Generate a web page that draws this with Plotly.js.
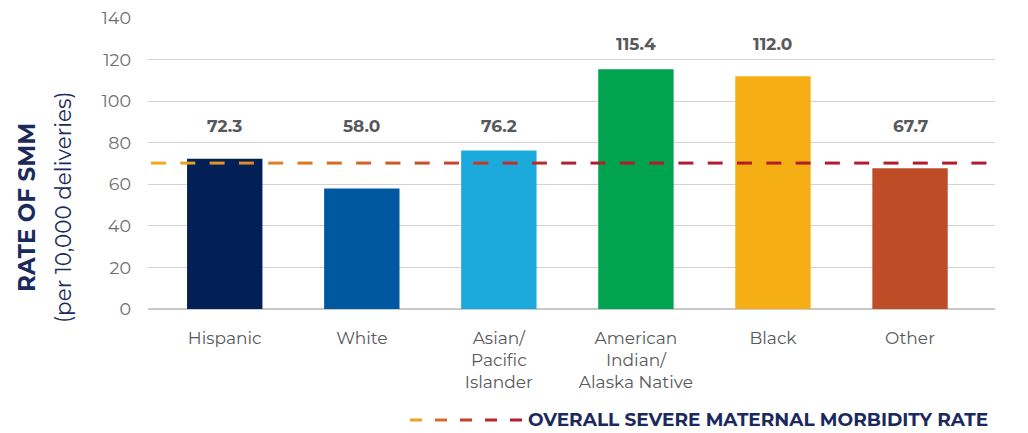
<!DOCTYPE html>
<html>
<head>
<meta charset="utf-8">
<script src="https://cdn.plot.ly/plotly-3.0.1.min.js"></script>
<style>html,body{margin:0;padding:0;background:#fff;}#chart{width:1028px;height:433px;}</style>
</head>
<body>
<div id="chart"></div>
<script>
const categories = ["Hispanic", "White", "Asian/<br>Pacific<br>Islander", "American<br>Indian/<br>Alaska Native", "Black", "Other"];
const rates = [72.3, 58.0, 76.2, 115.4, 112.0, 67.7];
const rateLabels = ["72.3", "58.0", "76.2", "115.4", "112.0", "67.7"];
const barColors = ["#021f56", "#0058a1", "#1ca9db", "#00a34f", "#f5ae14", "#bd4c27"];
const overallRate = 70.2;
const yTicks = [0, 20, 40, 60, 80, 100, 120, 140];
const legendText = "OVERALL SEVERE MATERNAL MORBIDITY RATE";

const W = 1028, H = 433;
const M = {l: 148, r: 33, t: 18, b: 124};
const PW = W - M.l - M.r, PH = H - M.t - M.b;
const FONT = "Montserrat, 'Open Sans', Lato, sans-serif";

function px2paperX(px) { return (px - M.l) / PW; }
function px2paperY(py) { return (H - M.b - py) / PH; }
function mix(c1, c2, t) {
  const r = Math.round(c1[0] + (c2[0] - c1[0]) * t);
  const g = Math.round(c1[1] + (c2[1] - c1[1]) * t);
  const b = Math.round(c1[2] + (c2[2] - c1[2]) * t);
  return "rgb(" + r + "," + g + "," + b + ")";
}
const ORANGE = [240, 168, 30], RED = [178, 28, 44];

const shapes = [];
// dashed overall-rate line with gradient colour
for (let s = 151; s < 992; s += 29.3) {
  const e = Math.min(s + 15, 992);
  const t = Math.min(1, Math.max(0, (s - 150) / 420));
  shapes.push({type: "line", xref: "paper", yref: "y", x0: px2paperX(s), x1: px2paperX(e), y0: overallRate, y1: overallRate,
    line: {color: mix(ORANGE, RED, t), width: 3}, layer: "above"});
}
// legend dashes
const legendY = px2paperY(420);
const legendColors = ["#f0a21e", "#d86a28", "#c63c2a", "#b9262b", "#b11e2e"];
for (let i = 0; i < 5; i++) {
  const s = 410 + i * 25;
  shapes.push({type: "line", xref: "paper", yref: "paper", x0: px2paperX(s), x1: px2paperX(s + 12), y0: legendY, y1: legendY,
    line: {color: legendColors[i], width: 3}});
}

const lowMax = Math.max(...rates.filter(v => v < 100));
const highMax = Math.max(...rates.filter(v => v >= 100));
const annotations = rates.map((v, i) => ({
  x: i, y: v >= 100 ? highMax : lowMax, xref: "x", yref: "y",
  text: "<b>" + rateLabels[i] + "</b>", showarrow: false, yanchor: "middle", yshift: 25,
  font: {family: FONT, size: 17, color: "#58595b"}
}));
annotations.push({
  xref: "paper", yref: "paper", x: 0, y: px2paperY(208), xshift: -121, xanchor: "center", yanchor: "middle",
  text: "<b>RATE OF SMM</b>", textangle: -90, showarrow: false,
  font: {family: FONT, size: 23, color: "#1b2a5c"}
});
annotations.push({
  xref: "paper", yref: "paper", x: 0, y: px2paperY(207), xshift: -85, xanchor: "center", yanchor: "middle",
  text: "(per 10,000 deliveries)", textangle: -90, showarrow: false,
  font: {family: FONT, size: 21.5, color: "#1b2a5c"}
});
annotations.push({
  xref: "paper", yref: "paper", x: px2paperX(527), y: px2paperY(419), xanchor: "left", yanchor: "middle",
  text: "<b>" + legendText + "</b>", showarrow: false, borderpad: 0,
  font: {family: FONT, size: 18.5, color: "#1b2a5c"}
});

const trace = {
  type: "bar", x: categories.map((c, i) => i), y: rates,
  marker: {color: barColors, line: {width: 0}}, width: 0.55,
  hoverinfo: "skip"
};

const layout = {
  width: W, height: H,
  margin: M,
  paper_bgcolor: "#fff", plot_bgcolor: "#fff",
  showlegend: false,
  xaxis: {
    range: [-0.56, 5.62], tickmode: "array", tickvals: categories.map((c, i) => i), ticktext: categories,
    showgrid: false, zeroline: false, showline: false, ticks: "",
    tickfont: {family: FONT, size: 17, color: "#58595b"}, ticklabelstandoff: 17, fixedrange: true
  },
  yaxis: {
    range: [0, 140], tickmode: "array", tickvals: yTicks,
    showgrid: true, gridcolor: "#d3d3d3", gridwidth: 1.2,
    zeroline: true, zerolinecolor: "#c8c8c8", zerolinewidth: 1.5,
    showline: false, ticks: "",
    tickfont: {family: FONT, size: 17.5, color: "#6d6e71"}, ticklabelstandoff: 16, fixedrange: true
  },
  shapes: shapes,
  annotations: annotations
};

Plotly.newPlot("chart", [trace], layout, {displayModeBar: false, staticPlot: true});
</script>
</body>
</html>
